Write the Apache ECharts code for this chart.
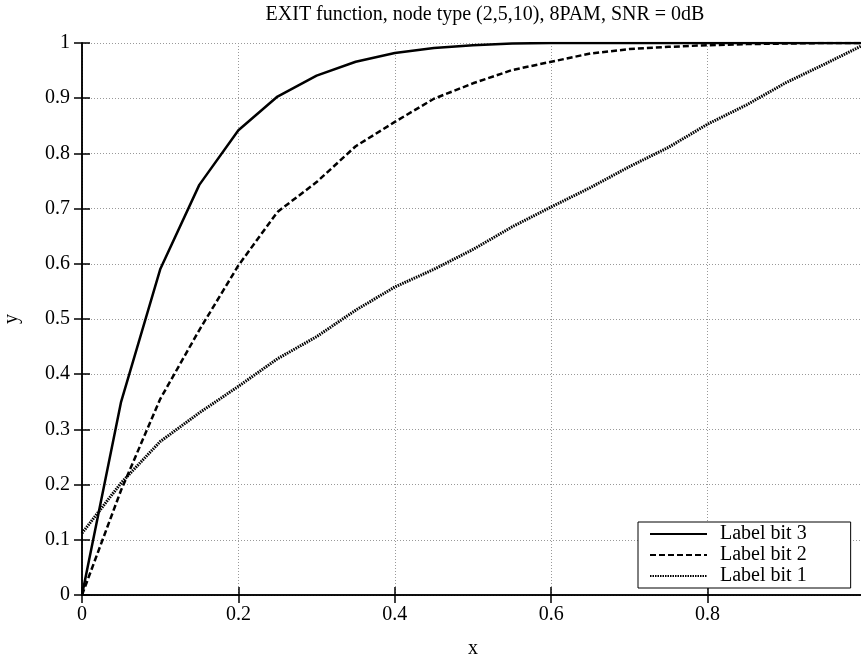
<!DOCTYPE html>
<html>
<head>
<meta charset="utf-8">
<script src="https://cdn.jsdelivr.net/npm/echarts@6/dist/echarts.min.js"></script>
<style>
  html, body { margin: 0; padding: 0; background: #fff; }
  #chart { width: 861px; height: 657px; }
</style>
</head>
<body>
<div id="chart"></div>
<script>
// x positions where the EXIT curves were sampled
const xValues = [0, 0.05, 0.1, 0.15, 0.2, 0.25, 0.3, 0.35, 0.4, 0.45, 0.5,
  0.55, 0.6, 0.65, 0.7, 0.75, 0.8, 0.85, 0.9, 0.95, 1]

const bit3 = [0, 0.35, 0.59, 0.743, 0.842, 0.903, 0.941, 0.966, 0.982, 0.991, 0.996,
  0.999, 1, 1, 1, 1, 1, 1, 1, 1, 1]
const bit2 = [0, 0.19, 0.355, 0.48, 0.597, 0.694, 0.748, 0.813, 0.857, 0.899, 0.927,
  0.951, 0.966, 0.981, 0.989, 0.993, 0.996, 0.998, 0.999, 1, 1]
const bit1 = [0.112, 0.203, 0.278, 0.33, 0.378, 0.428, 0.468, 0.516, 0.558, 0.59, 0.626,
  0.667, 0.703, 0.738, 0.776, 0.811, 0.853, 0.888, 0.928, 0.962, 0.997]

const seriesNames = ['Label bit 3', 'Label bit 2', 'Label bit 1']

const font = '"Liberation Serif", "DejaVu Serif", serif'

const pairs = (ys) => xValues.map((x, i) => [x, ys[i]])

const chart = echarts.init(document.getElementById('chart'))

const gridLine = {
  show: true,
  lineStyle: { color: '#999', type: [1, 2], width: 1 }
}
const frameLine = { show: true, lineStyle: { color: '#000', width: 1.5 } }
const frameTick = { show: true, inside: true, length: 8, lineStyle: { color: '#000', width: 1.5 } }

chart.setOption({
  animation: false,
  backgroundColor: '#fff',
  title: {
    text: 'EXIT function, node type (2,5,10), 8PAM, SNR = 0dB',
    left: 480,
    textAlign: 'center',
    top: 0,
    textStyle: { fontFamily: font, fontSize: 20, fontWeight: 'normal', color: '#000' }
  },
  grid: { left: 82, top: 43, width: 782, height: 552, outerBoundsMode: 'none' },
  legend: {
    data: seriesNames,
    orient: 'vertical',
    left: 638,
    top: 522,
    padding: [2, 44, 2, 11],
    itemGap: 1,
    itemWidth: 57,
    itemHeight: 20,
    backgroundColor: '#fff',
    borderColor: '#000',
    borderWidth: 1,
    borderRadius: 0,
    itemStyle: { opacity: 0 },
    textStyle: { fontFamily: font, fontSize: 20, color: '#000', padding: [0, 0, 0, 8] }
  },
  xAxis: [
    {
      type: 'value',
      min: 0,
      max: 1,
      interval: 0.2,
      name: 'x',
      nameLocation: 'middle',
      nameGap: 44,
      nameTextStyle: { fontFamily: font, fontSize: 20, color: '#000' },
      axisLine: frameLine,
      axisTick: frameTick,
      axisLabel: {
        fontFamily: font, fontSize: 20, color: '#000', margin: 10,
        showMaxLabel: false
      },
      splitLine: gridLine
    },
    {
      type: 'value',
      position: 'top',
      min: 0,
      max: 1,
      interval: 0.2,
      axisLine: frameLine,
      axisTick: frameTick,
      axisLabel: { show: false },
      splitLine: { show: false }
    }
  ],
  yAxis: [
    {
      type: 'value',
      min: 0,
      max: 1,
      interval: 0.1,
      name: 'y',
      nameLocation: 'middle',
      nameGap: 60,
      nameRotate: 90,
      nameTextStyle: { fontFamily: font, fontSize: 20, color: '#000' },
      axisLine: frameLine,
      axisTick: frameTick,
      axisLabel: { fontFamily: font, fontSize: 20, color: '#000', margin: 12 },
      splitLine: gridLine
    },
    {
      type: 'value',
      position: 'right',
      min: 0,
      max: 1,
      interval: 0.1,
      axisLine: frameLine,
      axisTick: frameTick,
      axisLabel: { show: false },
      splitLine: { show: false }
    }
  ],
  series: [
    {
      name: seriesNames[0],
      type: 'line',
      data: pairs(bit3),
      symbol: 'none',
      lineStyle: { color: '#000', width: 2.5, type: 'solid' },
      itemStyle: { color: '#000' }
    },
    {
      name: seriesNames[1],
      type: 'line',
      data: pairs(bit2),
      symbol: 'none',
      lineStyle: { color: '#000', width: 2.5, type: [6, 3] },
      itemStyle: { color: '#000' }
    },
    {
      name: seriesNames[2],
      type: 'line',
      data: pairs(bit1),
      symbol: 'none',
      lineStyle: { color: '#000', width: 3, type: [1.5, 1] },
      itemStyle: { color: '#000' }
    }
  ]
})
</script>
</body>
</html>
